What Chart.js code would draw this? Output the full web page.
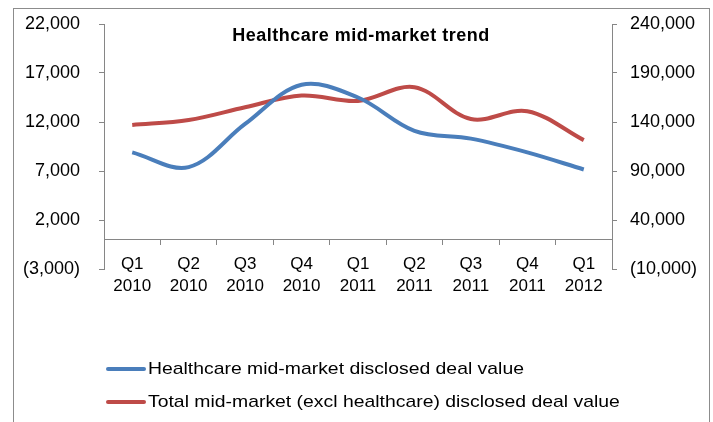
<!DOCTYPE html>
<html>
<head>
<meta charset="utf-8">
<script src="https://cdn.jsdelivr.net/npm/chart.js@4.4.1/dist/chart.umd.min.js"></script>
<style>
    html, body { margin: 0; padding: 0; background: #fff; }
    #wrap { position: relative; width: 713px; height: 422px; overflow: hidden; }
    #frame { position: absolute; left: 13px; top: 8px; width: 695px; height: 430px; border: 1px solid #8c8c8c; }
    canvas { position: absolute; left: 0; top: 0; }
    .leg { position: absolute; left: 106px; height: 20px; font-family: "Liberation Sans", Arial, sans-serif; font-size: 17px; color: #000; white-space: nowrap; }
    .leg .sw { position: absolute; left: 0; top: 8px; width: 40px; height: 4px; border-radius: 2px; }
    .leg .tx { position: absolute; left: 42px; top: 0; line-height: 20px; transform: scaleX(1.14); transform-origin: left center; }
</style>
</head>
<body>
<div id="wrap">
    <div id="frame"></div>
    <canvas id="trendChart" width="713" height="422"></canvas>
    <div class="leg" style="top:359px"><span class="sw" style="background:#4a7ebb"></span><span class="tx">Healthcare mid-market disclosed deal value</span></div>
    <div class="leg" style="top:392px"><span class="sw" style="background:#be4b48"></span><span class="tx">Total mid-market (excl healthcare) disclosed deal value</span></div>
</div>
<script>
// Dados do gráfico
const quarters = [['Q1', '2010'], ['Q2', '2010'], ['Q3', '2010'], ['Q4', '2010'], ['Q1', '2011'], ['Q2', '2011'], ['Q3', '2011'], ['Q4', '2011'], ['Q1', '2012']];
const healthcareValues = [8900, 7400, 11800, 15800, 14500, 11100, 10300, 8900, 7150];
const totalValues = [137000, 142000, 155000, 167000, 161500, 175500, 143000, 151000, 121500];
const leftTicks = { min: -3000, max: 22000, step: 5000 };
const rightTicks = { min: -10000, max: 240000, step: 50000 };

const axisColor = '#868686';
const fontFamily = '"Liberation Sans", Arial, sans-serif';

// Formata números negativos entre parênteses
function formatTick(value) {
    const txt = Math.abs(value).toLocaleString('en-US');
    return value < 0 ? '(' + txt + ')' : txt;
}

// Largura fixa dos eixos verticais, sem folga extra em cima/embaixo
function fixAxis(width) {
    return function(scale) {
        scale.width = width;
        scale.paddingTop = 0;
        scale.paddingBottom = 0;
    };
}

// Título desenhado dentro da área do gráfico
const titlePlugin = {
    id: 'innerTitle',
    afterDraw(chart) {
        const ctx = chart.ctx;
        const area = chart.chartArea;
        ctx.save();
        ctx.font = 'bold 18px ' + fontFamily;
        ctx.letterSpacing = '0.5px';
        ctx.fillStyle = '#000';
        ctx.textAlign = 'center';
        ctx.textBaseline = 'middle';
        ctx.fillText('Healthcare mid-market trend', (area.left + area.right) / 2 + 3, area.top + 12);
        ctx.restore();
    }
};

const ctx = document.getElementById('trendChart').getContext('2d');
new Chart(ctx, {
    type: 'line',
    data: {
        labels: quarters,
        datasets: [{
            label: 'Healthcare mid-market disclosed deal value',
            data: healthcareValues,
            borderColor: '#4a7ebb',
            borderWidth: 4,
            pointRadius: 0,
            tension: 0.35,
            yAxisID: 'y'
        }, {
            label: 'Total mid-market (excl healthcare) disclosed deal value',
            data: totalValues,
            borderColor: '#be4b48',
            borderWidth: 4,
            pointRadius: 0,
            tension: 0.35,
            yAxisID: 'y1'
        }]
    },
    options: {
        responsive: false,
        animation: false,
        layout: { padding: { left: 0, right: 0, top: 24, bottom: 153 } },
        scales: {
            x: {
                position: { y: 0 },
                offset: true,
                grid: { drawOnChartArea: false, drawTicks: true, tickLength: 5, color: axisColor, offset: true },
                border: { display: true, color: axisColor, width: 1 },
                ticks: {
                    color: '#000',
                    padding: 9,
                    maxRotation: 0,
                    autoSkip: false,
                    font: { family: fontFamily, size: 17, lineHeight: 1.3 }
                }
            },
            y: {
                position: 'left',
                min: leftTicks.min,
                max: leftTicks.max,
                afterFit: fixAxis(104),
                grid: { drawOnChartArea: false, drawTicks: true, tickLength: 5, color: axisColor },
                border: { display: true, color: axisColor, width: 1 },
                ticks: {
                    stepSize: leftTicks.step,
                    color: '#000',
                    padding: 19,
                    font: { family: fontFamily, size: 18 },
                    callback: formatTick
                }
            },
            y1: {
                position: 'right',
                min: rightTicks.min,
                max: rightTicks.max,
                afterFit: fixAxis(101),
                grid: { drawOnChartArea: false, drawTicks: true, tickLength: 5, color: axisColor },
                border: { display: true, color: axisColor, width: 1 },
                ticks: {
                    stepSize: rightTicks.step,
                    color: '#000',
                    padding: 13,
                    font: { family: fontFamily, size: 18 },
                    callback: formatTick
                }
            }
        },
        plugins: {
            legend: { display: false },
            tooltip: { enabled: false }
        }
    },
    plugins: [titlePlugin]
});
</script>
</body>
</html>
